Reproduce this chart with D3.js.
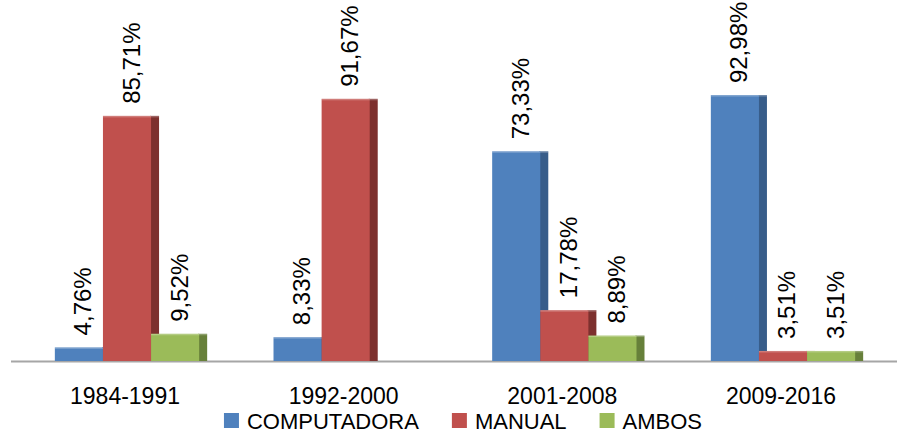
<!DOCTYPE html>
<html>
<head>
<meta charset="utf-8">
<script src="https://cdn.jsdelivr.net/npm/d3@7"></script>
<style>
  html, body { margin: 0; padding: 0; background: #fff; }
  svg { display: block; font-family: "Liberation Sans", Arial, sans-serif; }
</style>
</head>
<body>
<svg id="chart" width="897" height="434"></svg>
<script>
const categories = ["1984-1991", "1992-2000", "2001-2008", "2009-2016"];
const seriesNames = ["COMPUTADORA", "MANUAL", "AMBOS"];
const computadora = [4.76, 8.33, 73.33, 92.98];
const manual = [85.71, 91.67, 17.78, 3.51];
const ambos = [9.52, 0, 8.89, 3.51];
const seriesValues = [computadora, manual, ambos];
const frontColors = ["#4F81BD", "#C0504D", "#9BBB59"];
const sideColors = ["#385D8A", "#7D302E", "#67803A"];

const svg = d3.select("#chart");
const baseY = 361;

const x0 = d3.scaleBand().domain(categories).range([17.67, 892.33])
  .paddingInner(0.34).paddingOuter(0.17);
const x1 = d3.scaleBand().domain(seriesNames).range([0, x0.bandwidth()]).padding(0);
const y = d3.scaleLinear().domain([0, 100]).range([baseY, 75]);
const depth = 8;

const fmt = v => v.toFixed(2).replace(".", ",") + "%";

const data = [];
categories.forEach((c, i) => {
  seriesNames.forEach((s, j) => {
    data.push({ cat: c, series: s, si: j, value: seriesValues[j][i] });
  });
});

// axis line
svg.append("line")
  .attr("x1", 11).attr("x2", 897)
  .attr("y1", baseY + 0.5).attr("y2", baseY + 0.5)
  .attr("stroke", "#a6a6a6").attr("stroke-width", 2);

const bars = svg.append("g");
data.filter(d => d.value > 0).forEach(d => {
  const bx = x0(d.cat) + x1(d.series);
  const by = y(d.value);
  const bw = x1.bandwidth();
  const g = bars.append("g");
  g.append("rect")
    .attr("x", bx + bw - 1).attr("y", by)
    .attr("width", depth + 1).attr("height", baseY - by)
    .attr("fill", sideColors[d.si]);
  g.append("rect")
    .attr("x", bx).attr("y", by)
    .attr("width", bw).attr("height", baseY - by)
    .attr("fill", frontColors[d.si]);
  g.append("rect")
    .attr("x", bx).attr("y", by)
    .attr("width", bw + depth).attr("height", 1.5)
    .attr("fill", "#ffffff").attr("opacity", 0.25);
});

// value labels
svg.append("g").selectAll("text")
  .data(data.filter(d => d.value > 0))
  .join("text")
  .attr("transform", d => {
    const cx = x0(d.cat) + x1(d.series) + x1.bandwidth() / 2 + 4;
    return `translate(${cx},${y(d.value) - 12}) rotate(-90)`;
  })
  .attr("text-anchor", "start")
  .attr("dominant-baseline", "central")
  .attr("font-size", 24)
  .attr("fill", "#000")
  .text(d => fmt(d.value));

// category labels
const xAxis = d3.axisBottom(x0).tickSize(0).tickPadding(0);
const ax = svg.append("g").attr("transform", `translate(-2,${baseY})`).call(xAxis);
ax.select(".domain").remove();
ax.selectAll("text")
  .attr("y", 43).attr("dy", null)
  .attr("font-family", "Liberation Sans, Arial, sans-serif")
  .attr("font-size", 23)
  .attr("fill", "#000");

// legend
const legend = svg.append("g");
let lx = 0;
seriesNames.forEach((s, j) => {
  const g = legend.append("g");
  g.append("rect").attr("x", 0).attr("y", 413).attr("width", 15).attr("height", 15)
    .attr("fill", frontColors[j]);
  const t = g.append("text").attr("x", 23).attr("y", 429)
    .attr("font-size", 22).attr("fill", "#000").text(s);
  const w = 23 + t.node().getComputedTextLength();
  g.attr("transform", `translate(${lx},0)`);
  lx += w + 33;
});
const totalW = lx - 33;
legend.attr("transform", `translate(${463 - totalW / 2},0)`);
</script>
</body>
</html>
